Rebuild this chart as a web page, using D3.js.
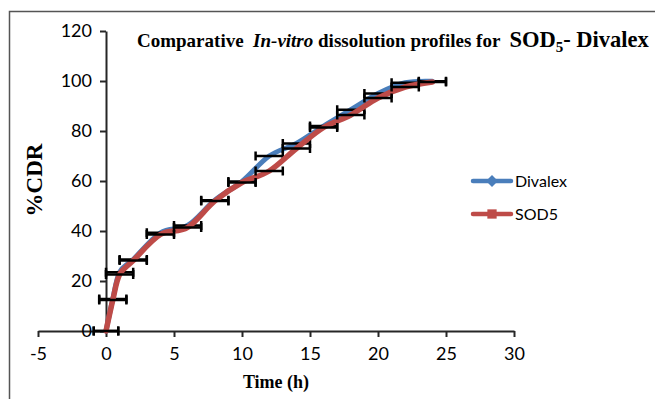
<!DOCTYPE html>
<html>
<head>
<meta charset="utf-8">
<title>Comparative in vitro dissolution</title>
<style>
    body { margin: 0; background: #fff; }
    .tick text { font: 18px Lato, sans-serif; fill: #000; }
    .tick line, .domain { stroke: #262626; stroke-width: 2; }
    .ttl { font-family: "Liberation Serif", "Times New Roman", serif; font-weight: bold; fill: #000; white-space: pre; }
    .leg { font: 16px Lato, sans-serif; fill: #000; }
</style>
</head>
<body>
<script src="https://cdn.jsdelivr.net/npm/d3@7"></script>
<script>

var time = [0, 0.5, 1, 2, 4, 6, 8, 10, 12, 14, 16, 18, 20, 22, 24]
var divalex = [0, 12.8, 23.5, 28.6, 39.3, 42.2, 52.3, 59.8, 70, 75, 82, 88.5, 95, 99.3, 99.9]
var sod5 = [0, 12.4, 22.6, 28.2, 38.6, 41.4, 52, 59.4, 64, 73, 81.4, 86.4, 93.2, 97.6, 99.6]
var timeErr = [0.9, 1, 1, 1, 1, 1, 1, 1, 1, 1, 1, 1, 1, 1, 1]
var xTicks = [-5, 0, 5, 10, 15, 20, 25, 30]
var yTicks = [0, 20, 40, 60, 80, 100, 120]

var width = 655, height = 399

var svg = d3.select('body').append('svg')
    .attr('width', width)
    .attr('height', height)

// outer frame (only top and left edges visible)
svg.append('path')
    .attr('d', 'M9.5,399 V11.5 H655')
    .attr('fill', 'none')
    .attr('stroke', '#555')
    .attr('stroke-width', 1.5)

var x = d3.scaleLinear().domain([-5, 30]).range([38, 514])
var y = d3.scaleLinear().domain([0, 120]).range([331, 31])

// plain hyphen for negatives, like the original
var fmt = function(d){ return String(d) }

svg.append('g')
    .attr('transform', 'translate(0,' + y(0) + ')')
    .call(d3.axisBottom(x).tickValues(xTicks).tickFormat(fmt).tickSize(6).tickSizeOuter(0).tickPadding(10))

svg.append('g')
    .attr('transform', 'translate(' + x(0) + ',0)')
    .call(d3.axisLeft(y).tickValues(yTicks).tickFormat(fmt).tickSize(6).tickSizeOuter(0).tickPadding(8))

var series = [
    {name: 'Divalex', values: divalex, color: '#4A7EBB', w: 5},
    {name: 'SOD5', values: sod5, color: '#BE4B48', w: 5.5}
]

var line = d3.line()
    .x(function(d){ return x(d[0]) })
    .y(function(d){ return y(d[1]) })
    .curve(d3.curveCardinal.tension(0))

series.forEach(function(s){
    var pts = time.map(function(t, i){ return [t, s.values[i]] })

    svg.append('path')
        .datum(pts)
        .attr('fill', 'none')
        .attr('stroke', s.color)
        .attr('stroke-width', s.w)
        .attr('stroke-linecap', 'round')
        .attr('d', line)

    // horizontal error bars
    var eb = svg.append('g').attr('stroke', '#000').attr('stroke-width', 2.5)
    pts.forEach(function(p, i){
        var x0 = x(p[0] - timeErr[i]), x1 = x(p[0] + timeErr[i]), yy = y(p[1])
        eb.append('line').attr('x1', x0).attr('x2', x1).attr('y1', yy).attr('y2', yy)
        eb.append('line').attr('x1', x0).attr('x2', x0).attr('y1', yy - 4.5).attr('y2', yy + 4.5)
        eb.append('line').attr('x1', x1).attr('x2', x1).attr('y1', yy - 4.5).attr('y2', yy + 4.5)
    })
})

// title
var title = svg.append('text')
    .attr('class', 'ttl')
    .attr('x', 137)
    .attr('y', 47)
    .style('font-size', '19px')
title.append('tspan').text('Comparative  ')
title.append('tspan').style('font-style', 'italic').text('In-vitro')
title.append('tspan').text(' dissolution profiles for  ')
title.append('tspan').style('font-size', '22.5px').text('SOD')
title.append('tspan').style('font-size', '15px').attr('dy', 5).text('5')
title.append('tspan').style('font-size', '22.5px').attr('dy', -5).text('- Divalex')

// axis titles
svg.append('text')
    .attr('class', 'ttl')
    .attr('transform', 'translate(42,180) rotate(-90)')
    .attr('text-anchor', 'middle')
    .style('font-size', '23px')
    .text('%CDR')

svg.append('text')
    .attr('class', 'ttl')
    .attr('x', 276)
    .attr('y', 388)
    .attr('text-anchor', 'middle')
    .style('font-size', '18px')
    .text('Time (h)')

// legend
var legend = svg.append('g')
series.forEach(function(s, i){
    var ly = 181 + i * 33
    legend.append('line')
        .attr('x1', 473).attr('x2', 511).attr('y1', ly).attr('y2', ly)
        .attr('stroke', s.color).attr('stroke-width', 4.5).attr('stroke-linecap', 'round')
    legend.append('path')
        .attr('transform', 'translate(492,' + ly + ')')
        .attr('d', d3.symbol().type(i === 0 ? d3.symbolDiamond2 : d3.symbolSquare2).size(i === 0 ? 90 : 110))
        .attr('fill', s.color)
    legend.append('text')
        .attr('class', 'leg')
        .attr('x', 515)
        .attr('y', ly)
        .attr('dy', '0.35em')
        .text(s.name)
})

</script>
</body>
</html>
